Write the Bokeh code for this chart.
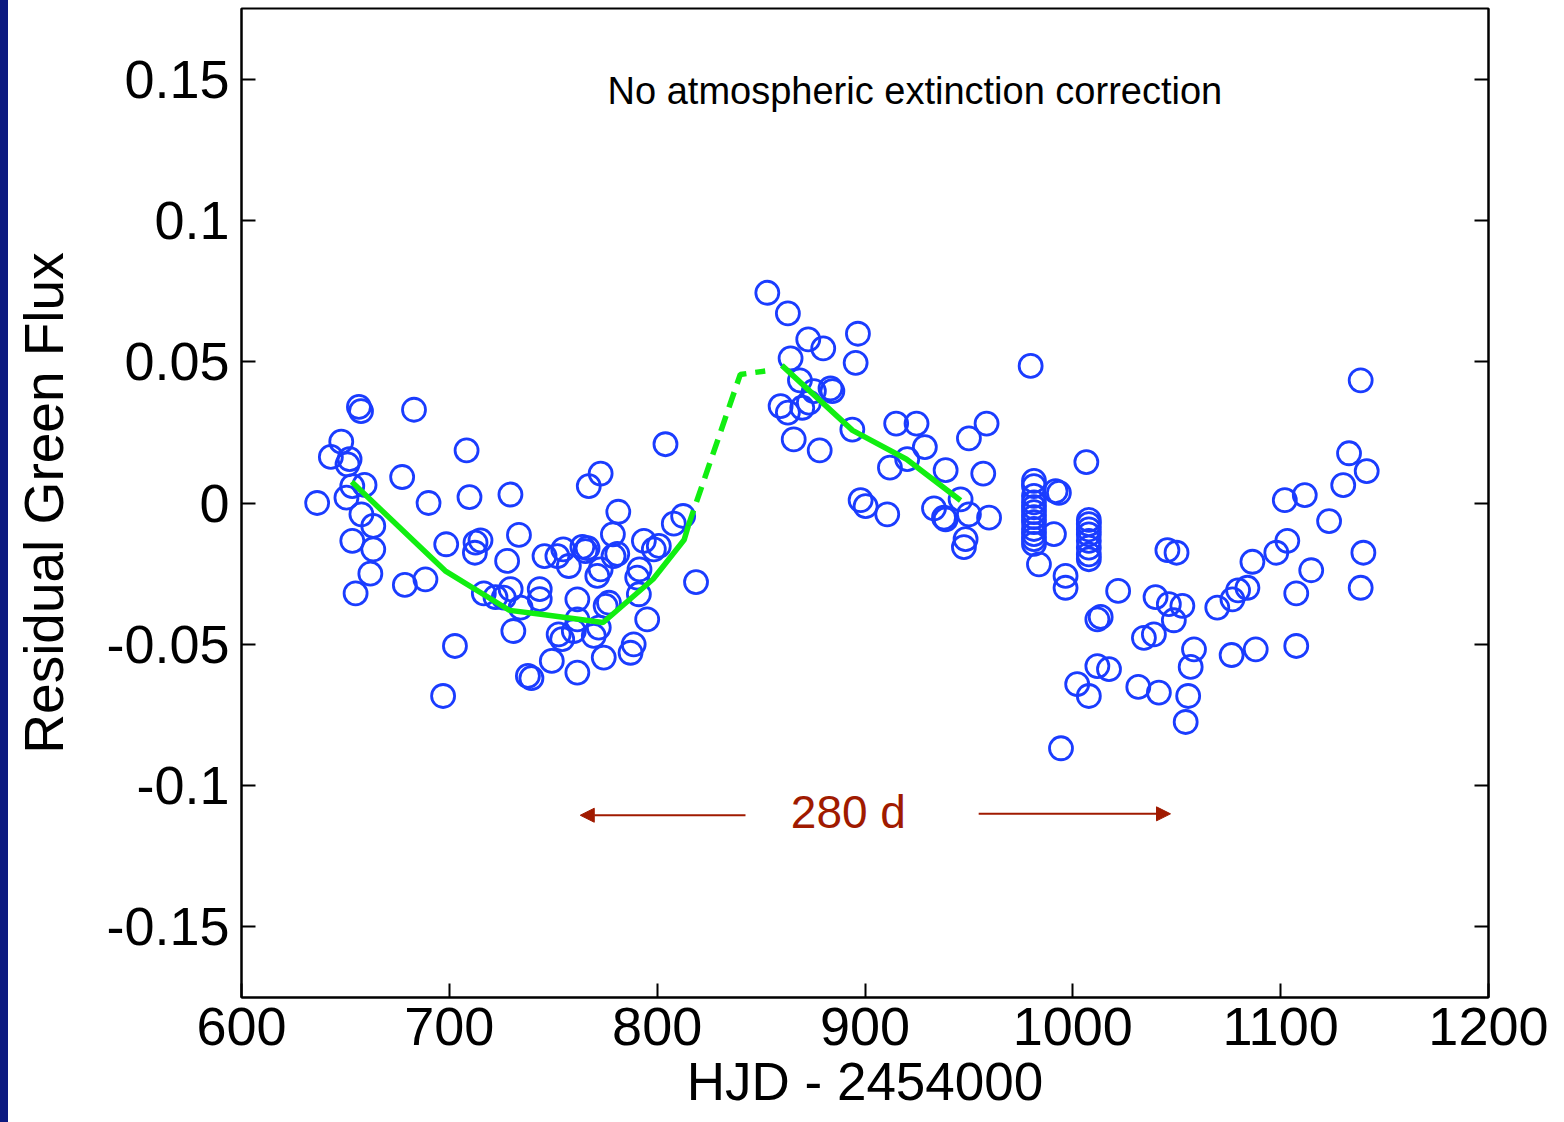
from bokeh.plotting import figure
from bokeh.models import (Range1d, LinearAxis, FixedTicker, CustomJSTickFormatter,
                          Label, Arrow, NormalHead, GlobalInlineStyleSheet)
from bokeh.embed import file_html
from bokeh.resources import INLINE

# ---------------- data ----------------
hjd = [
    636.4, 643.0, 648.0, 651.0, 652.0, 650.5, 653.3, 654.9, 653.3, 656.5, 657.5, 657.7, 659.2,
    662.0, 663.4, 663.4, 677.3, 678.6, 683.0, 688.5, 690.0, 697.0, 698.5, 702.7, 708.3, 709.7,
    712.6, 715.0, 712.3, 716.6, 722.2, 726.2, 727.8, 729.4, 729.5, 730.8, 733.5, 734.3, 737.8,
    739.5, 743.5, 743.5,
    745.8, 749.3, 752.0, 752.6, 754.3, 754.8, 757.5, 759.9, 761.6, 761.6, 761.6, 764.0, 765.5,
    766.5, 767.1, 769.5, 771.2, 771.9, 772.8, 772.8, 774.3, 775.2, 776.8, 778.7, 779.0, 780.8,
    781.3, 787.2, 788.7, 790.4, 791.2, 791.5, 793.6, 795.2, 798.4, 800.8, 804.0, 808.0, 812.5,
    818.7,
    853.0, 859.4, 862.9, 862.9, 864.2, 865.7, 868.7, 869.8, 872.7, 873.0, 875.4, 878.2, 879.9,
    883.4, 884.3, 893.9, 895.5, 896.6, 897.9, 900.3, 910.7, 912.0, 915.0, 920.3, 924.8, 928.8,
    933.2, 938.0, 938.8, 938.8, 946.0, 947.6, 948.4, 950.0, 950.0, 956.9, 958.5, 959.7,
    979.7, 981.3, 981.3, 981.3, 981.3, 981.3, 981.3, 981.3, 981.3, 981.3, 981.3, 981.3, 981.3,
    983.7, 991.7, 993.3, 990.9, 994.3, 996.5, 996.5, 1002.1, 1006.5,
    1007.7, 1007.7, 1007.7, 1007.7, 1007.7, 1007.7, 1007.7, 1007.7,
    1007.7, 1011.8, 1013.4, 1011.8, 1017.4, 1021.8, 1031.5, 1034.2, 1039.0, 1039.8, 1041.4,
    1045.5, 1049.9, 1046.2, 1052.7, 1048.6, 1054.3, 1055.5, 1056.7, 1058.3, 1069.5, 1076.4,
    1076.8, 1079.5, 1084.0, 1086.4, 1088.0, 1097.9, 1102.0, 1103.2, 1107.5, 1107.5, 1111.6,
    1114.7, 1123.3, 1130.1, 1132.9, 1138.5, 1138.5, 1139.8, 1141.4,
]
flux = [
    0.0000, 0.0163, 0.0217, 0.0137, 0.0155, 0.0019, 0.0060, -0.0320, -0.0134, 0.0340, 0.0325,
    -0.0040, 0.0064, -0.0250, -0.0081, -0.0164, 0.0092, -0.0290, 0.0330, -0.0270, 0.0000,
    -0.0683, -0.0146, -0.0506, 0.0186, 0.0021, -0.0140, -0.0132, -0.0176, -0.0320, -0.0333,
    -0.0335, -0.0205, 0.0030, -0.0305, -0.0453, -0.0113, -0.0370, -0.0612, -0.0620, -0.0305,
    -0.0340,
    -0.0188, -0.0559, -0.0188, -0.0465, -0.0482, -0.0164, -0.0223, -0.0453, -0.0341, -0.0412,
    -0.0600, -0.0155, -0.0170, -0.0160, 0.0060, -0.0470, -0.0258, -0.0441, 0.0104, -0.0235,
    -0.0547, -0.0364, -0.0353, -0.0111, -0.0188, -0.0180, -0.0031, -0.0530, -0.0500, -0.0264,
    -0.0323, -0.0235, -0.0134, -0.0412, -0.0164, -0.0152, 0.0208, -0.0073, -0.0046, -0.0280,
    0.0744, 0.0343, 0.0671, 0.0320, 0.0512, 0.0225, 0.0434, 0.0337, 0.0579, 0.0355, 0.0396,
    0.0186, 0.0547, 0.0406, 0.0396, 0.0260, 0.0496, 0.0599, 0.0010, -0.0011, -0.0040, 0.0125,
    0.0281, 0.0155, 0.0281, 0.0198, -0.0019, -0.0052, -0.0058, 0.0116, 0.0013, -0.0156,
    -0.0128, 0.0229, -0.0040, 0.0104, 0.0281, -0.0052,
    0.0485, 0.0078, 0.0060, 0.0025, 0.0002, -0.0015, -0.0032, -0.0050, -0.0068, -0.0092,
    -0.0110, -0.0128, -0.0145,
    -0.0217, 0.0042, 0.0036, -0.0110, -0.0868, -0.0258, -0.0300, -0.0641, 0.0145,
    -0.0060, -0.0075, -0.0093, -0.0111, -0.0134, -0.0158, -0.0182, -0.0199,
    -0.0683, -0.0412, -0.0403, -0.0577, -0.0588, -0.0311, -0.0651, -0.0477, -0.0465, -0.0333,
    -0.0671, -0.0167, -0.0176, -0.0358, -0.0364, -0.0415, -0.0775, -0.0683, -0.0580, -0.0518,
    -0.0370, -0.0538, -0.0341, -0.0309, -0.0300, -0.0208, -0.0518, -0.0176, 0.0010, -0.0134,
    -0.0320, -0.0506, 0.0028, -0.0238, -0.0064, 0.0063, 0.0176, 0.0434, -0.0300, -0.0176,
    0.0113,
]

fit1_x = [653, 698, 729, 744, 774, 798, 813, 815]
fit1_y = [0.0075, -0.024, -0.038, -0.0394, -0.0423, -0.027, -0.013, -0.008]
gap_x = [815, 840, 852]
gap_y = [-0.008, 0.0455, 0.0467]
fit2_x = [860, 894, 920, 946]
fit2_y = [0.0487, 0.0257, 0.0155, 0.0009]

x_ticks = [600, 700, 800, 900, 1000, 1100, 1200]
y_ticks = [-0.15, -0.1, -0.05, 0.0, 0.05, 0.1, 0.15]

arrow_left_x = [842.5, 763.0]
arrow_right_x = [954.7, 1047.0]
arrow_y = [-0.1105, -0.1100]
period_label = "280 d"
period_pos = [892.0, -0.1095]
note_text = "No atmospheric extinction correction"
note_pos = [924.0, 0.1458]

# ---------------- figure ----------------
FONT = "'Liberation Sans', Arial, sans-serif"
BLUE = "#1a3cff"
GREEN = "#11ee11"
RED = "#a01a00"

p = figure(frame_width=1247, frame_height=989, output_backend="svg", toolbar_location=None,
           x_range=Range1d(600, 1200), y_range=Range1d(-0.175, 0.175),
           min_border_left=241, min_border_top=8, min_border_right=60, min_border_bottom=10)
p.background_fill_color = "white"
p.border_fill_color = None
p.outline_line_color = "black"
p.outline_line_width = 2
p.grid.visible = False

for ax in (p.xaxis[0], p.yaxis[0]):
    ax.major_tick_in = 14
    ax.major_tick_out = 0
    ax.minor_tick_line_color = None
    ax.axis_line_width = 2
    ax.major_tick_line_width = 2
    ax.major_label_text_font = FONT
    ax.major_label_text_font_size = "54px"
    ax.major_label_text_color = "black"
    ax.axis_label_text_font = FONT
    ax.axis_label_text_font_size = "55px"
    ax.axis_label_text_font_style = "normal"
    ax.axis_label_text_color = "black"

p.xaxis.axis_label_text_font_size = "53px"
p.xaxis.ticker = FixedTicker(ticks=x_ticks)
p.yaxis.ticker = FixedTicker(ticks=y_ticks)
p.yaxis.formatter = CustomJSTickFormatter(code="return String(Number(tick.toFixed(2)));")
p.xaxis.axis_label = "HJD - 2454000"
p.yaxis.axis_label = "Residual Green Flux"
p.xaxis.major_label_standoff = 10
p.yaxis.major_label_standoff = 12
p.xaxis.axis_label_standoff = 4
p.yaxis.axis_label_standoff = 28

right = LinearAxis(ticker=FixedTicker(ticks=y_ticks), major_tick_in=14, major_tick_out=0,
                   minor_tick_line_color=None,
                   formatter=CustomJSTickFormatter(code="return '';"),
                   axis_line_width=2, major_tick_line_width=2)
p.add_layout(right, "right")

# data
p.scatter(hjd, flux, marker="circle", size=23, fill_color=None, line_color=BLUE, line_width=2.8)
p.line(fit1_x, fit1_y, line_color=GREEN, line_width=5.5)
p.line(gap_x, gap_y, line_color=GREEN, line_width=5.5, line_dash="16 9")
p.line(fit2_x, fit2_y, line_color=GREEN, line_width=5.5)

# annotations
p.add_layout(Label(x=note_pos[0], y=note_pos[1], text=note_text, text_font=FONT,
                   text_font_size="38px", text_align="center", text_baseline="middle",
                   text_color="black"))
p.add_layout(Label(x=period_pos[0], y=period_pos[1], text=period_label, text_font=FONT,
                   text_font_size="46px", text_align="center", text_baseline="middle",
                   text_color=RED))
p.add_layout(Arrow(end=NormalHead(size=14, fill_color=RED, line_color=RED),
                   x_start=arrow_left_x[0], x_end=arrow_left_x[1],
                   y_start=arrow_y[0], y_end=arrow_y[0], line_color=RED, line_width=2))
p.add_layout(Arrow(end=NormalHead(size=14, fill_color=RED, line_color=RED),
                   x_start=arrow_right_x[0], x_end=arrow_right_x[1],
                   y_start=arrow_y[1], y_end=arrow_y[1], line_color=RED, line_width=2))

p.stylesheets = [GlobalInlineStyleSheet(
    css="html{background:linear-gradient(to right,#0c1a80 0px,#0c1a80 8px,#ffffff 8px) !important;}"
        "body{background:transparent !important;}")]

open("out.html", "w").write(file_html(p, INLINE))
